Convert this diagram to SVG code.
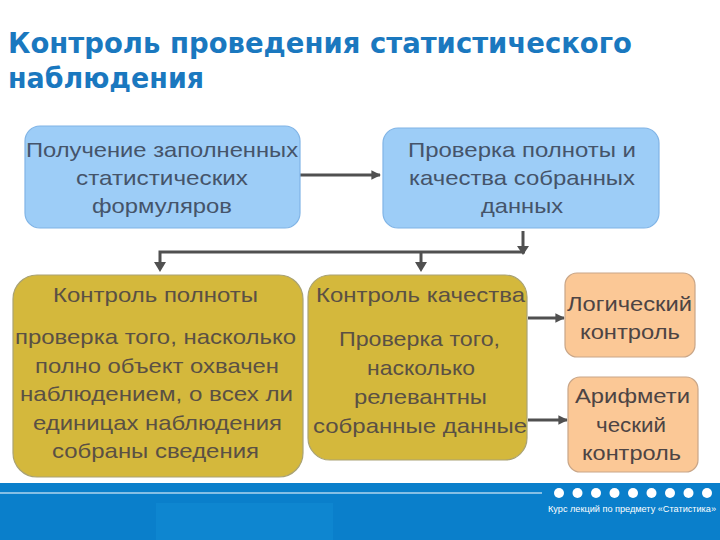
<svg xmlns="http://www.w3.org/2000/svg" width="720" height="540" viewBox="0 0 720 540">
<defs>
<style>
.t{font-family:"Liberation Sans",Arial,sans-serif;font-size:21px}
.tb{fill:#45546A}
.ty{fill:#5A5044}
.to{fill:#4D4444}
.title{font-family:"DejaVu Sans",Verdana,sans-serif;font-weight:bold;font-size:28px;fill:#1A78BF}
.blue{fill:#9DCDF7;stroke:#80B4E6;stroke-width:1.2}
.yel{fill:#D4B83C;stroke:#A9A274;stroke-width:1.2}
.org{fill:#FBC896;stroke:#C9A688;stroke-width:1.2}
.ln{fill:none;stroke:#505050;stroke-width:3}
</style>
<marker id="ah" viewBox="0 0 10 10" refX="9" refY="5" markerWidth="3.2" markerHeight="3.2" orient="auto" markerUnits="strokeWidth">
<path d="M0,0 L10,5 L0,10 z" fill="#505050"/>
</marker>
</defs>
<rect width="720" height="540" fill="#ffffff"/>
<g id="title">
<text class="title" x="8" y="53" textLength="624" lengthAdjust="spacingAndGlyphs">Контроль проведения статистического</text>
<text class="title" x="8" y="88" textLength="196" lengthAdjust="spacingAndGlyphs">наблюдения</text>
</g>
<g id="footer">
<rect x="0" y="483" width="720" height="57" fill="#0A7FCB"/>
<rect x="156" y="503" width="177" height="37" fill="#0E86D0"/>
<line x1="0" y1="493" x2="542" y2="493" stroke="#ffffff" stroke-width="1.2"/>
<g fill="#ffffff">
<circle cx="559" cy="493" r="5"/><circle cx="577.5" cy="493" r="5"/><circle cx="596" cy="493" r="5"/><circle cx="614.5" cy="493" r="5"/><circle cx="633" cy="493" r="5"/><circle cx="651.5" cy="493" r="5"/><circle cx="670" cy="493" r="5"/><circle cx="688.5" cy="493" r="5"/><circle cx="707" cy="493" r="5"/>
</g>
<text x="548" y="512" font-family="Liberation Sans Narrow,Liberation Sans,Arial,sans-serif" font-size="8.5" fill="#ffffff" textLength="168" lengthAdjust="spacingAndGlyphs">Курс лекций по предмету «Статистика»</text>
</g>
<g id="connectors">
<line class="ln" x1="300" y1="175" x2="380" y2="175" marker-end="url(#ah)"/>
<polyline class="ln" points="523,231 523,253"/>
<path d="M517,246 L529,246 L523,255 z" fill="#505050"/>
<polyline class="ln" points="525,252 160,252 160,263"/>
<path d="M154,262 L166,262 L160,272 z" fill="#505050"/>
<line class="ln" x1="421" y1="252" x2="421" y2="263"/>
<path d="M415,262 L427,262 L421,272 z" fill="#505050"/>
<line class="ln" x1="528" y1="318" x2="564" y2="318" marker-end="url(#ah)"/>
<line class="ln" x1="528" y1="420" x2="567" y2="420" marker-end="url(#ah)"/>
</g>
<g id="n1">
<rect class="blue" x="25" y="126" width="275" height="102" rx="15"/>
<text class="t tb" x="26" y="157" textLength="272" lengthAdjust="spacingAndGlyphs">Получение заполненных</text>
<text class="t tb" x="76" y="185" textLength="172" lengthAdjust="spacingAndGlyphs">статистических</text>
<text class="t tb" x="92" y="213" textLength="140" lengthAdjust="spacingAndGlyphs">формуляров</text>
</g>
<g id="n2">
<rect class="blue" x="383" y="128" width="276" height="100" rx="15"/>
<text class="t tb" x="408" y="157" textLength="228" lengthAdjust="spacingAndGlyphs">Проверка полноты и</text>
<text class="t tb" x="409" y="185" textLength="226" lengthAdjust="spacingAndGlyphs">качества собранных</text>
<text class="t tb" x="481" y="213" textLength="82" lengthAdjust="spacingAndGlyphs">данных</text>
</g>
<g id="n3">
<rect class="yel" x="13" y="275" width="290" height="202" rx="24"/>
<text class="t ty" x="53" y="302" textLength="205" lengthAdjust="spacingAndGlyphs">Контроль полноты</text>
<text class="t ty" x="15" y="344" textLength="281" lengthAdjust="spacingAndGlyphs">проверка того, насколько</text>
<text class="t ty" x="35" y="372.5" textLength="244" lengthAdjust="spacingAndGlyphs">полно объект охвачен</text>
<text class="t ty" x="20" y="401" textLength="273" lengthAdjust="spacingAndGlyphs">наблюдением, о всех ли</text>
<text class="t ty" x="33" y="429.5" textLength="249" lengthAdjust="spacingAndGlyphs">единицах наблюдения</text>
<text class="t ty" x="52" y="458" textLength="207" lengthAdjust="spacingAndGlyphs">собраны сведения</text>
</g>
<g id="n4">
<rect class="yel" x="308" y="275" width="219" height="185" rx="22"/>
<text class="t ty" x="316" y="302" textLength="209" lengthAdjust="spacingAndGlyphs">Контроль качества</text>
<text class="t ty" x="339" y="346" textLength="161" lengthAdjust="spacingAndGlyphs">Проверка того,</text>
<text class="t ty" x="367" y="375" textLength="108" lengthAdjust="spacingAndGlyphs">насколько</text>
<text class="t ty" x="354" y="404" textLength="133" lengthAdjust="spacingAndGlyphs">релевантны</text>
<text class="t ty" x="313" y="433" textLength="214" lengthAdjust="spacingAndGlyphs">собранные данные</text>
</g>
<g id="n5">
<rect class="org" x="565" y="273" width="130" height="84" rx="12"/>
<text class="t to" x="567" y="311" textLength="125" lengthAdjust="spacingAndGlyphs">Логический</text>
<text class="t to" x="580" y="339" textLength="100" lengthAdjust="spacingAndGlyphs">контроль</text>
</g>
<g id="n6">
<rect class="org" x="568" y="377" width="130" height="95" rx="12"/>
<text class="t to" x="575" y="403" textLength="115" lengthAdjust="spacingAndGlyphs">Арифмети</text>
<text class="t to" x="596" y="432" textLength="70" lengthAdjust="spacingAndGlyphs">ческий</text>
<text class="t to" x="582" y="460" textLength="99" lengthAdjust="spacingAndGlyphs">контроль</text>
</g>
</svg>
